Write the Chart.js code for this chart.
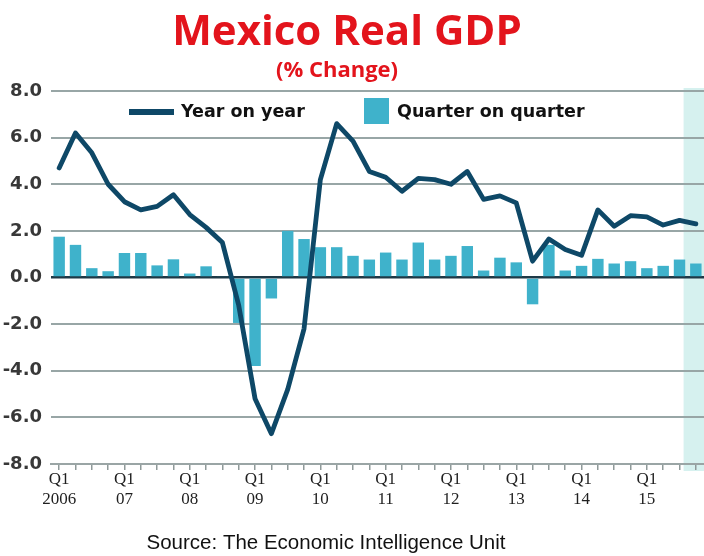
<!DOCTYPE html>
<html>
<head>
<meta charset="utf-8">
<script src="https://cdn.jsdelivr.net/npm/chart.js@4.4.1/dist/chart.umd.min.js"></script>
<style>
  html, body { margin: 0; padding: 0; background: #ffffff; }
  #wrap { width: 704px; height: 556px; }
</style>
</head>
<body>
<div id="wrap"><canvas id="gdp-canvas" width="704" height="556"></canvas></div>
<script>
// quarters Q1 2006 .. Q4 2015
const years = ["2006", "2007", "2008", "2009", "2010", "2011", "2012", "2013", "2014", "2015"];
const yearLabels = ["2006", "07", "08", "09", "10", "11", "12", "13", "14", "15"];
const quarters = years.flatMap((y) => ["Q1", "Q2", "Q3", "Q4"].map((q) => `${q} ${y}`));

const yearOnYear = [
  4.7, 6.2, 5.35, 4.0,
  3.25, 2.9, 3.05, 3.55,
  2.7, 2.15, 1.5, -1.2,
  -5.2, -6.7, -4.8, -2.2,
  4.2, 6.6, 5.85, 4.55,
  4.3, 3.7, 4.25, 4.2,
  4.0, 4.55, 3.35, 3.5,
  3.2, 0.7, 1.65, 1.2,
  0.95, 2.9, 2.2, 2.65,
  2.6, 2.25, 2.45, 2.3,
];

const quarterOnQuarter = [
  1.75, 1.4, 0.4, 0.27,
  1.05, 1.05, 0.52, 0.78,
  0.17, 0.48, 0.05, -1.95,
  -3.8, -0.9, 2.0, 1.65,
  1.3, 1.3, 0.93, 0.77,
  1.07, 0.77, 1.5, 0.77,
  0.93, 1.35, 0.3, 0.85,
  0.65, -1.15, 1.4, 0.3,
  0.5, 0.8, 0.6, 0.7,
  0.4, 0.5, 0.77, 0.6,
];

const yTicks = [-8, -6, -4, -2, 0, 2, 4, 6, 8];
const forecastFrom = "Q4 2015";

const chartTitle = "Mexico Real GDP";
const chartSubtitle = "(% Change)";
const sourceNote = "Source: The Economic Intelligence Unit";

const RED = "#e3141c";
const LINE_COLOR = "#0e4867";
const BAR_COLOR = "#3fb2cb";

const decorPlugin = {
  id: "decor",
  beforeDraw(chart) {
    const { ctx, chartArea, scales } = chart;
    ctx.save();
    ctx.fillStyle = "#ffffff";
    ctx.fillRect(0, 0, chart.width, chart.height);
    // forecast band starts just after the last actual bar
    const idx = quarters.indexOf(forecastFrom);
    const x0 = scales.x.getPixelForValue(idx - 0.75);
    ctx.fillStyle = "#d6f1ef";
    ctx.fillRect(x0, chartArea.top - 3, chartArea.right - x0, chartArea.bottom - chartArea.top + 10);
    ctx.restore();
  },
  afterDraw(chart) {
    const { ctx } = chart;
    ctx.save();
    ctx.fillStyle = RED;
    ctx.textAlign = "center";
    ctx.textBaseline = "alphabetic";
    ctx.font = "bold 42px 'Open Sans'";
    ctx.fillText(chartTitle, 347, 45);
    ctx.font = "bold 22px 'Open Sans'";
    ctx.fillText(chartSubtitle, 337, 77);

    // legend inside the plot
    const line = chart.data.datasets[0];
    const bars = chart.data.datasets[1];
    ctx.strokeStyle = line.borderColor;
    ctx.lineWidth = 6;
    ctx.beginPath();
    ctx.moveTo(129, 112);
    ctx.lineTo(174, 112);
    ctx.stroke();
    ctx.fillStyle = bars.backgroundColor;
    ctx.fillRect(364, 98, 25, 26);
    ctx.fillStyle = "#111111";
    ctx.textAlign = "left";
    ctx.textBaseline = "middle";
    ctx.font = "bold 17.5px 'DejaVu Sans'";
    ctx.fillText(line.label, 181, 112);
    ctx.fillText(bars.label, 397, 112);

    ctx.textAlign = "center";
    ctx.font = "20.5px 'Liberation Sans'";
    ctx.fillText(sourceNote, 326, 543);
    ctx.restore();
  },
};

new Chart(document.querySelector("#gdp-canvas"), {
  type: "bar",
  data: {
    labels: quarters,
    datasets: [
      {
        type: "line",
        label: "Year on year",
        data: yearOnYear,
        borderColor: LINE_COLOR,
        borderWidth: 4.8,
        pointRadius: 0,
        tension: 0,
        borderJoinStyle: "round",
        borderCapStyle: "round",
        order: 0,
      },
      {
        type: "bar",
        label: "Quarter on quarter",
        data: quarterOnQuarter,
        backgroundColor: BAR_COLOR,
        barPercentage: 0.7,
        categoryPercentage: 1,
        order: 1,
      },
    ],
  },
  options: {
    responsive: false,
    animation: false,
    devicePixelRatio: 1,
    layout: { padding: { top: 91, left: 0, right: 0, bottom: 0 } },
    plugins: {
      legend: { display: false },
      title: { display: false },
      tooltip: { enabled: false },
    },
    scales: {
      x: {
        offset: true,
        afterFit(scale) { scale.height = 92; },
        grid: { offset: false, drawOnChartArea: false, drawTicks: true, tickLength: 6, tickColor: "#8f9a9a", lineWidth: 1.5 },
        border: { color: "#9aa5a5", width: 2 },
        ticks: {
          autoSkip: false,
          maxRotation: 0,
          padding: 0,
          color: "#1f1f1f",
          font: { family: "'Liberation Serif'", size: 17, lineHeight: 1.15 },
          callback: (value, index) => (index % 4 === 0 ? ["Q1", yearLabels[index / 4]] : ""),
        },
      },
      y: {
        min: yTicks[0],
        max: yTicks[yTicks.length - 1],
        afterFit(scale) { scale.width = 51; },
        afterBuildTicks(scale) { scale.ticks = yTicks.map((v) => ({ value: v })); },
        border: { display: false },
        grid: {
          drawTicks: false,
          color: (c) => (c.tick && c.tick.value === 0 ? "#1e3946" : "#98a6a6"),
          lineWidth: (c) => (c.tick && c.tick.value === 0 ? 2.5 : 2),
        },
        ticks: {
          padding: 9,
          color: "#383838",
          font: { family: "'DejaVu Sans'", size: 18, weight: "bold" },
          callback: (v) => Number(v).toFixed(1),
        },
      },
    },
  },
  plugins: [decorPlugin],
});
</script>
</body>
</html>
